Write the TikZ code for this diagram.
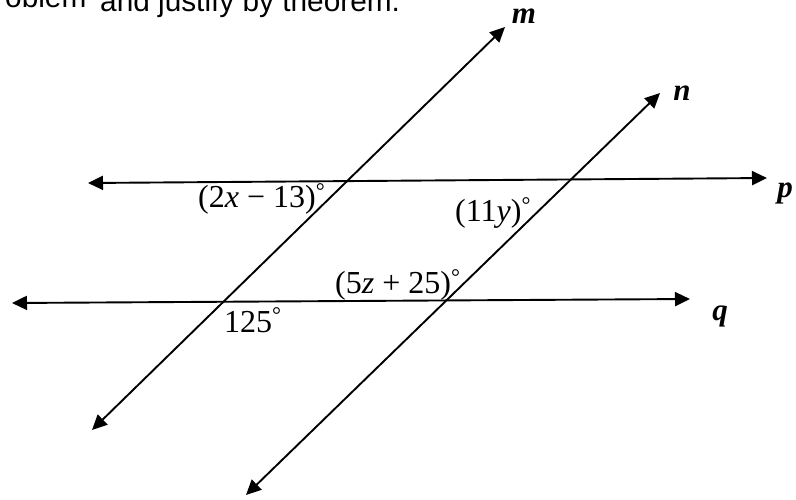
\documentclass[tikz,border=0pt]{standalone}
\usepackage{fontspec}
\setmainfont{Liberation Serif}
\newfontfamily\headfont{Liberation Sans}
\usetikzlibrary{arrows.meta}
\tikzset{
  tline/.style={{Triangle[length=15pt,width=14pt]}-{Triangle[length=15pt,width=14pt]}, line width=1.9pt},
  ang/.style={font=\fontsize{32}{32}\selectfont, inner sep=0pt},
  lname/.style={font=\fontsize{31}{31}\selectfont\bfseries\itshape, inner sep=0pt, anchor=base},
  head/.style={font=\headfont\fontsize{29.8}{29.8}\selectfont, inner sep=0pt, anchor=base west},
}

\begin{document}
\begin{tikzpicture}[x=1pt, y=-1pt]
    \clip (0,0) rectangle (796,499);
    \node[head] (headA) at (5,7) {oblem};
    \node[head] (headB) at (100,11) {and justify by theorem.};

    \coordinate (m1) at (92,430);
    \coordinate (m2) at (505,27);
    \coordinate (n1) at (246,495);
    \coordinate (n2) at (660,93);
    \coordinate (p1) at (88,183);
    \coordinate (p2) at (767,178);
    \coordinate (q1) at (12,303);
    \coordinate (q2) at (690,299);
    \draw[tline] (m1) -- (m2);
    \draw[tline] (n1) -- (n2);
    \draw[tline] (p1) -- (p2);
    \draw[tline] (q1) -- (q2);

    \node[lname] (lm) at (524,23) {m};
    \node[lname] (ln) at (682,100) {n};
    \node[lname] (lp) at (785,197) {p};
    \node[lname] (lq) at (720,320) {q};

    \node[ang, anchor=west] (a1) at (198,199) {(2\textit{x} − 13)\textsuperscript{°}};
    \node[ang, anchor=west] (a2) at (455,213) {(11\textit{y})\textsuperscript{°}};
    \node[ang, anchor=west] (a3) at (335,285) {(5\textit{z} + 25)\textsuperscript{°}};
    \node[ang, anchor=base west] (a4) at (224,332) {125\textsuperscript{°}};
  \end{tikzpicture}
\end{document}
